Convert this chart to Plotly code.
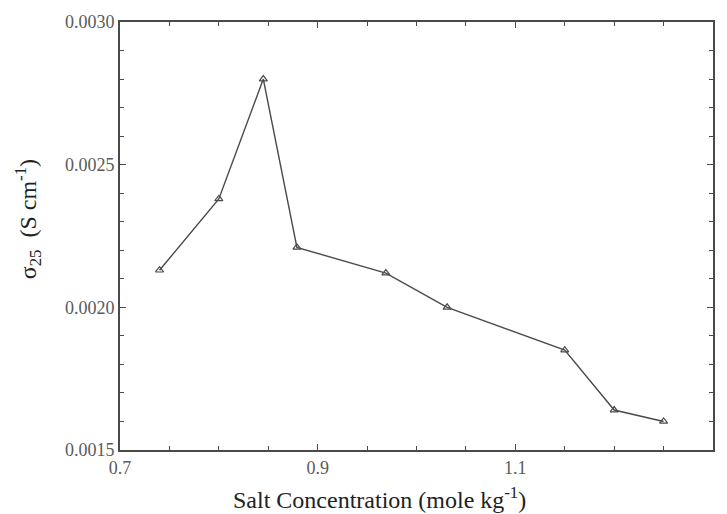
import plotly.graph_objects as go

salt_conc = [0.740, 0.800, 0.845, 0.879, 0.969, 1.031, 1.150, 1.200, 1.250]
sigma25 = [0.00213, 0.00238, 0.00280, 0.00221, 0.00212, 0.00200, 0.00185, 0.00164, 0.00160]

x_ticks = [0.7, 0.9, 1.1, 1.3]
x_ticklabels = ["0.7", "0.9", "1.1", "1.3"]
y_ticks = [0.0015, 0.0020, 0.0025, 0.0030]
y_ticklabels = ["0.0015", "0.0020", "0.0025", "0.0030"]

x_title = "Salt Concentration (mole kg<sup>-1</sup>)"
y_title = "σ<sub>25</sub>  (S cm<sup>-1</sup>)"

line_col = "#4a4a4a"
serif = "Liberation Serif, Times New Roman, serif"

# page has an 8px body margin, so the figure is shifted by 8px
W, H = 711, 506
L, R, T, B = 112, 4, 14, 64
pw, ph = W - L - R, H - T - B

fig = go.Figure()
fig.add_trace(go.Scatter(
    x=salt_conc, y=sigma25, mode="lines+markers",
    line=dict(color=line_col, width=1.4),
    marker=dict(symbol="triangle-up-open", size=7, color=line_col, line=dict(width=1.2, color=line_col)),
    showlegend=False,
))

tickfont = dict(family=serif, size=18, color="#5a5a5a")
fig.update_layout(
    width=W, height=H,
    margin=dict(l=L, r=R, t=T, b=B),
    paper_bgcolor="white", plot_bgcolor="white",
    font=dict(family=serif, color="#222222"),
)
fig.update_xaxes(
    range=[0.7, 1.3], tickvals=x_ticks, ticktext=x_ticklabels,
    ticks="inside", ticklen=6, tickwidth=1, tickcolor=line_col,
    minor=dict(dtick=0.05, tick0=0.7, ticks="inside", ticklen=4, tickcolor=line_col),
    showline=True, linecolor=line_col, linewidth=2, mirror="ticks",
    showgrid=False, zeroline=False, tickfont=tickfont,
)
fig.update_yaxes(
    range=[0.0015, 0.0030], tickvals=y_ticks, ticktext=y_ticklabels,
    ticks="inside", ticklen=6, tickwidth=1, tickcolor=line_col,
    minor=dict(dtick=0.0001, tick0=0.0015, ticks="inside", ticklen=4, tickcolor=line_col),
    showline=True, linecolor=line_col, linewidth=2, mirror="ticks",
    showgrid=False, zeroline=False, tickfont=tickfont,
)

# axis titles (placed like the reference, slightly off-centre)
fig.add_annotation(
    text=x_title, xref="paper", yref="paper",
    x=(380 - 8 - L) / pw, y=-(498 - 8 - (H - B)) / ph,
    xanchor="center", yanchor="middle", showarrow=False,
    font=dict(family=serif, size=24, color="#222222"),
)
fig.add_annotation(
    text=y_title, xref="paper", yref="paper",
    x=(28 - 8 - L) / pw, y=((H - B) - (219 - 8)) / ph,
    xanchor="center", yanchor="middle", textangle=-90, showarrow=False,
    font=dict(family=serif, size=24, color="#222222"),
)

fig.write_html("out.html")
